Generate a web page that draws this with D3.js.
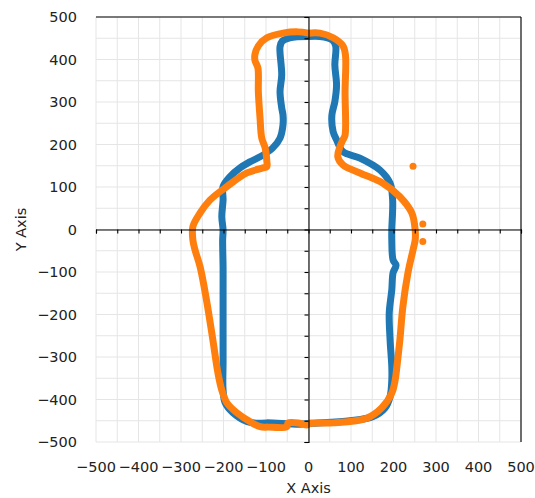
<!DOCTYPE html>
<html><head><meta charset="utf-8">
<script src="https://cdn.jsdelivr.net/npm/d3@7/dist/d3.min.js"></script>
<style>body{margin:0;background:#fff}svg{display:block}</style>
</head><body>
<svg id="c" width="535" height="498"></svg>
<script>
// ---- data ----
const tickLabels = [-500,-400,-300,-200,-100,0,100,200,300,400,500];
const gridValues = d3.range(-500, 501, 50);
const blueX = [0,-44,-62,-67,-67,-63,-67,-63,-60,-60,-67,-84,-107,-138,-161,-185,-201,-201,-204,-201,-202,-201,-201,-201,-201,-201,-196,-178,-145,-122,-98,-20,4,98,152,180,192,196,196,192,190,196,199,206,199,196,196,198,192,168,121,81,66,58,55,62,66,62,64,56,27,0];
const blueY = [454,451,443,430,416,364,324,286,269,246,215,192,175,159,145,124,101,69,30,-1,-25,-88,-142,-260,-314,-378,-408,-431,-452,-456,-455,-458,-456,-450,-440,-420,-393,-354,-323,-260,-196,-142,-102,-84,-72,-25,-1,69,109,140,168,183,211,230,269,301,340,387,432,446,454,454];
const orangeX = [0,-25,-60,-98,-118,-126,-126,-119,-118,-114,-110,-102,-98,-98,-107,-145,-192,-232,-255,-272,-272,-267,-255,-240,-225,-213,-204,-192,-169,-138,-114,-95,-51,-48,-20,-4,4,58,137,172,196,204,208,215,222,234,246,251,251,243,215,175,121,81,69,74,81,86,86,87,81,58,27,0];
const orangeY = [462,465,462,451,432,412,398,380,324,262,215,192,160,148,145,133,101,69,39,7,-25,-48,-88,-166,-260,-338,-378,-408,-431,-452,-464,-465,-464,-455,-456,-460,-456,-455,-444,-420,-385,-354,-323,-260,-182,-102,-48,-25,-1,39,77,109,133,152,171,195,211,222,324,410,432,451,462,462];
const outlierX = [246,269,269];
const outlierY = [149,13,-28];

// ---- layout ----
const L=96, R=521, T=17, B=442;
const svg=d3.select("#c");
const x=d3.scaleLinear().domain([-500,500]).range([L,R]);
const y=d3.scaleLinear().domain([-500,500]).range([B,T]);
const font="DejaVu Sans, sans-serif";

// grid
const g=svg.append("g");
g.selectAll("line.gx").data(gridValues).enter().append("line")
  .attr("x1",d=>x(d)).attr("x2",d=>x(d)).attr("y1",T).attr("y2",B)
  .attr("stroke","#e5e5e5").attr("stroke-width",1);
g.selectAll("line.gy").data(gridValues).enter().append("line")
  .attr("y1",d=>y(d)).attr("y2",d=>y(d)).attr("x1",L).attr("x2",R)
  .attr("stroke","#e5e5e5").attr("stroke-width",1);

// data
const toPts=(xs,ys)=>xs.map((v,i)=>[v,ys[i]]);
const line=d3.line().x(d=>x(d[0])).y(d=>y(d[1])).curve(d3.curveCatmullRom.alpha(0.5));
[[blueX,blueY,"#1f77b4"],[orangeX,orangeY,"#ff7f0e"]].forEach(([xs,ys,c])=>{
  svg.append("path").attr("d",line(toPts(xs,ys)))
    .attr("fill","none").attr("stroke",c).attr("stroke-width",7)
    .attr("stroke-linejoin","round").attr("stroke-linecap","round");
});
svg.selectAll("circle.o").data(toPts(outlierX,outlierY)).enter().append("circle")
  .attr("cx",d=>x(d[0])).attr("cy",d=>y(d[1])).attr("r",3.5).attr("fill","#ff7f0e");

// axes through zero
const xAxis=d3.axisBottom(x).tickValues(gridValues).tickSize(4).tickFormat("");
const ax=svg.append("g").attr("transform",`translate(0,${y(0)})`).call(xAxis);
const yAxis=d3.axisLeft(y).tickValues(gridValues).tickSize(4).tickFormat("");
const ay=svg.append("g").attr("transform",`translate(${x(0)},0)`).call(yAxis);
[ax,ay].forEach(a=>{a.selectAll("path").attr("stroke","#000").attr("stroke-width",1.1);
  a.selectAll("line").attr("stroke","#000").attr("stroke-width",1.1);});

// top and right spines
svg.append("line").attr("x1",L).attr("x2",R).attr("y1",T).attr("y2",T).attr("stroke","#000").attr("stroke-width",1.1);
svg.append("line").attr("x1",R).attr("x2",R).attr("y1",T).attr("y2",B).attr("stroke","#000").attr("stroke-width",1.1);

// tick labels
const fmt=d=>d<0?"\u2212"+Math.abs(d):String(d);
svg.selectAll("text.xl").data(tickLabels).enter().append("text")
  .attr("x",d=>x(d)).attr("y",B+25).attr("text-anchor","middle").attr("dominant-baseline","central")
  .attr("font-family",font).attr("font-size",14.5).attr("fill","#222").text(fmt);
svg.selectAll("text.yl").data(tickLabels).enter().append("text")
  .attr("x",L-19).attr("y",d=>y(d)).attr("text-anchor","end").attr("dominant-baseline","central")
  .attr("font-family",font).attr("font-size",14.5).attr("fill","#222").text(fmt);

// axis titles
svg.append("text").attr("x",x(0)).attr("y",488).attr("text-anchor","middle").attr("dominant-baseline","central")
  .attr("font-family",font).attr("font-size",14.5).attr("fill","#222").text("X Axis");
svg.append("text").attr("transform",`translate(21,${y(0)}) rotate(-90)`).attr("text-anchor","middle").attr("dominant-baseline","central")
  .attr("font-family",font).attr("font-size",14.5).attr("fill","#222").text("Y Axis");
</script>
</body></html>
